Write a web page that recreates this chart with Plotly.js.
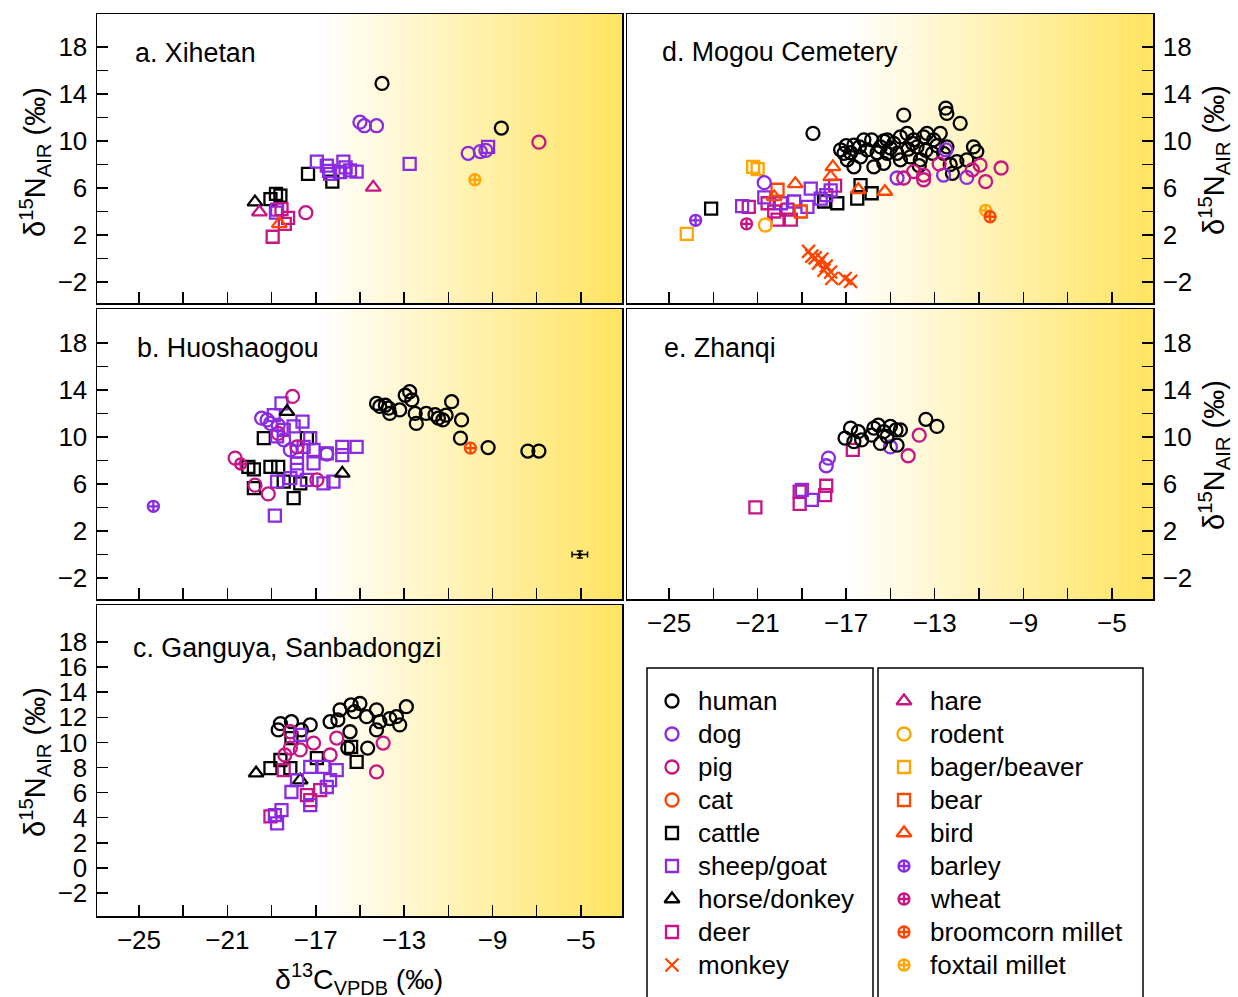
<!DOCTYPE html>
<html>
<head>
<meta charset="utf-8">
<script src="https://cdn.plot.ly/plotly-3.0.1.min.js"></script>
<style>html,body{margin:0;padding:0;background:#fff;}#chart{width:1238px;height:997px;}</style>
</head>
<body>
<div id="chart"></div>
<script>
// ---------- categories ----------
const categoryNames = ['human','dog','pig','cat','cattle','sheep/goat','horse/donkey','deer','monkey',
  'hare','rodent','bager/beaver','bear','bird','barley','wheat','broomcorn millet','foxtail millet'];
const categoryColors = ['#000000','#8A2BE2','#C71585','#FF4500','#000000','#8A2BE2','#000000','#C71585','#FF4500',
  '#C71585','#FFA500','#FFA500','#FF4500','#FF4500','#8A2BE2','#C71585','#FF4500','#FFA500'];
const categorySymbols = ['circle-open','circle-open','circle-open','circle-open','square-open','square-open','triangle-up-open','square-open','x-thin-open',
  'triangle-up-open','circle-open','square-open','square-open','triangle-up-open','circle-cross-open','circle-cross-open','circle-cross-open','circle-cross-open'];
const legendColumn1 = ['human','dog','pig','cat','cattle','sheep/goat','horse/donkey','deer','monkey'];
const legendColumn2 = ['hare','rodent','bager/beaver','bear','bird','barley','wheat','broomcorn millet','foxtail millet'];

// ---------- axis ticks ----------
const xTickVals = [-25,-23,-21,-19,-17,-15,-13,-11,-9,-7,-5];
const xTickText = ['−25','','−21','','−17','','−13','','−9','','−5'];
const yTickVals = [-2,0,2,4,6,8,10,12,14,16,18];
const yTickTextSparse = ['−2','','2','','6','','10','','14','','18'];
const yTickTextFull = ['−2','0','2','4','6','8','10','12','14','16','18'];

// ---------- panel a: Xihetan  [d13C, d15N] ----------
const a_human = [[-14.0,14.9],[-8.6,11.1]];
const a_dog = [[-15.0,11.6],[-14.8,11.3],[-14.25,11.3],[-10.1,8.95],[-9.55,9.1],[-9.3,9.2]];
const a_pig = [[-6.9,9.9],[-17.45,3.9]];
const a_cattle = [[-17.35,7.2],[-16.25,6.55],[-18.8,5.5],[-18.6,5.35],[-19.05,5.05]];
const a_sheep = [[-16.95,8.25],[-16.5,7.9],[-16.4,7.45],[-15.75,8.25],[-15.65,7.75],[-15.15,7.4],[-16.35,7.2],
  [-15.9,7.35],[-15.45,7.5],[-12.75,8.05],[-9.2,9.5],[-18.75,4.15],[-18.8,3.9]];
const a_horse = [[-19.75,4.8]];
const a_hare = [[-19.55,3.95],[-14.4,6.05]];
const a_bird = [[-18.65,2.95]];
const a_deer = [[-18.95,1.85],[-18.55,4.2],[-18.25,3.45],[-18.4,2.95]];
const a_foxtail = [[-9.8,6.7]];

// ---------- panel b: Huoshaogou ----------
const b_human = [[-14.1,12.6],[-13.85,12.7],[-13.65,12.0],[-13.7,12.45],[-13.2,12.3],[-12.95,13.55],[-12.75,13.85],
  [-12.65,13.15],[-12.5,12.0],[-12.45,11.15],[-12.0,12.0],[-11.45,11.6],[-11.25,11.45],[-11.1,11.85],[-10.85,13.0],
  [-10.4,11.45],[-10.45,9.9],[-9.2,9.1],[-7.4,8.8],[-6.9,8.8],[-14.25,12.85],[-11.6,11.9]];
const b_dog = [[-19.45,11.6],[-19.2,11.45],[-19.05,11.15],[-18.7,11.0],[-18.45,9.75],[-18.15,8.9],[-16.5,8.55]];
const b_pig = [[-18.05,13.45],[-20.65,8.2],[-19.75,5.9],[-19.15,5.15],[-16.95,6.35],[-18.7,10.3],[-17.85,9.15]];
const b_wheat = [[-20.4,7.7]];
const b_cattle = [[-20.05,7.45],[-19.8,7.25],[-19.35,9.9],[-19.05,7.45],[-18.7,7.45],[-18.0,4.8],[-19.8,5.65],
  [-17.4,9.9],[-18.45,6.2],[-17.7,6.05]];
const b_horse = [[-18.3,12.15],[-15.8,6.9]];
const b_sheep = [[-18.55,12.85],[-17.6,11.3],[-18.9,11.85],[-18.0,10.9],[-18.75,10.05],[-17.25,9.9],[-17.1,8.9],
  [-17.85,8.75],[-16.5,8.6],[-15.8,9.15],[-15.8,8.45],[-15.15,9.15],[-17.1,7.75],[-17.85,7.2],[-18.15,6.5],
  [-17.4,6.35],[-16.65,6.05],[-16.2,6.2],[-18.75,6.2],[-17.85,7.75],[-18.45,10.6],[-17.55,9.15],[-18.85,3.3]];
const b_barley = [[-24.35,4.1]];
const b_broomcorn = [[-10.0,9.05]];
const b_errPoint = [[-5.05,0.0]];
const b_errX = [0.35];
const b_errY = [0.3];

// ---------- panel c: Ganguya, Sanbadongzi ----------
const c_human = [[-18.6,11.5],[-18.1,11.65],[-18.7,11.0],[-17.25,11.4],[-16.35,11.65],[-16.0,11.8],[-15.9,12.6],
  [-15.4,13.0],[-15.0,13.1],[-15.25,12.45],[-14.7,12.05],[-14.25,12.6],[-14.1,11.65],[-13.65,11.9],[-13.35,12.05],
  [-12.9,12.85],[-13.2,11.4],[-14.25,11.0],[-15.45,10.85],[-14.65,9.55],[-15.55,9.55],[-17.65,11.0]];
const c_cattle = [[-19.05,7.95],[-18.6,8.6],[-18.1,10.35],[-15.4,9.65],[-15.15,8.45],[-16.95,8.75],[-18.15,7.95]];
const c_pig = [[-18.15,10.85],[-17.1,9.95],[-16.05,10.35],[-16.35,9.0],[-18.15,9.55],[-18.4,9.0],[-13.95,9.95],
  [-14.25,7.65],[-17.7,9.4]];
const c_sheep = [[-17.7,10.6],[-17.25,8.05],[-16.65,8.05],[-16.05,7.8],[-16.35,7.0],[-17.85,7.0],[-18.1,6.05],
  [-16.5,6.45],[-17.25,5.0],[-18.55,4.6],[-18.85,4.2],[-18.75,3.55]];
const c_horse = [[-19.7,7.55],[-17.7,7.0]];
const c_deer = [[-18.45,7.8],[-17.4,5.8],[-16.8,6.2],[-19.05,4.1],[-17.25,5.4]];

// ---------- panel d: Mogou Cemetery ----------
const d_human = [[-18.5,10.65],[-14.4,12.2],[-12.5,12.8],[-12.45,12.35],[-11.85,11.5],
  [-17.1,8.95],[-16.65,9.65],[-16.35,8.65],[-16.05,9.25],[-15.85,10.1],[-15.45,9.5],[-15.15,8.95],[-14.85,9.8],
  [-14.55,10.35],[-14.25,10.65],[-13.95,10.1],[-13.8,9.5],[-13.5,10.35],[-13.35,10.65],[-13.05,10.1],[-12.75,10.65],
  [-12.45,9.5],[-12.6,8.95],[-11.25,9.5],[-11.1,9.1],[-11.55,8.4],[-12.0,8.25],[-16.65,7.8],[-15.75,7.8],
  [-15.3,8.1],[-14.1,8.65],[-14.55,8.4],[-17.25,9.25],[-16.95,8.4],[-16.2,10.1],[-15.15,10.1],[-14.7,8.95],
  [-13.65,8.4],[-13.1,8.95],[-12.2,7.25],[-16.8,9.0],[-16.4,9.5],[-15.6,9.0],[-15.0,9.4],[-14.2,9.3],
  [-13.4,9.2],[-12.9,9.6],[-14.0,9.8],[-15.3,10.0],[-17.0,9.6],[-13.7,7.9],[-12.3,8.0]];
const d_dog = [[-20.7,6.45],[-14.7,6.85],[-12.6,7.1],[-11.55,6.9],[-12.5,9.25]];
const d_pig = [[-14.4,6.85],[-13.95,7.4],[-13.5,7.1],[-13.5,6.7],[-12.8,8.05],[-11.3,7.55],[-10.95,7.95],
  [-10.7,6.55],[-10.0,7.7]];
const d_cattle = [[-23.1,4.25],[-16.35,6.25],[-15.85,5.55],[-16.5,5.1],[-17.4,4.7],[-18.0,4.85]];
const d_sheep = [[-21.7,4.45],[-20.7,5.2],[-18.6,5.95],[-19.95,4.7],[-19.35,4.85],[-18.75,4.4],[-18.15,5.1],
  [-17.9,5.4],[-17.7,5.8]];
const d_deer = [[-21.4,4.4],[-20.55,4.7],[-20.1,3.3],[-19.5,3.3],[-20.25,4.0],[-19.65,4.15],[-17.5,6.2]];
const d_bear = [[-20.1,5.85],[-19.05,4.0]];
const d_bird = [[-19.3,6.35],[-20.25,5.25],[-17.6,7.8],[-17.7,6.95],[-16.45,5.85],[-15.25,5.7]];
const d_bager = [[-24.2,2.1],[-21.2,7.8],[-21.0,7.6]];
const d_rodent = [[-20.65,2.85]];
const d_barley = [[-23.8,3.25]];
const d_wheat = [[-21.5,2.95]];
const d_monkey = [[-18.55,0.2],[-18.7,0.6],[-18.4,0.05],[-18.25,-0.4],[-18.1,-0.05],[-17.9,-0.65],[-18.0,-1.0],
  [-17.7,-1.15],[-17.65,-1.7],[-17.05,-1.7],[-16.8,-1.95]];
const d_foxtail = [[-10.7,4.1]];
const d_broomcorn = [[-10.5,3.55]];

// ---------- panel e: Zhanqi ----------
const e_human = [[-16.8,10.75],[-17.05,9.9],[-16.65,9.6],[-16.3,9.75],[-16.45,10.45],[-15.75,10.75],[-15.55,11.0],
  [-15.3,10.45],[-15.0,10.9],[-14.75,10.6],[-14.55,10.6],[-15.45,9.45],[-15.15,10.05],[-14.7,9.3],[-13.4,11.5],
  [-12.9,10.9],[-15.85,10.15]];
const e_dog = [[-17.8,8.2],[-17.9,7.55],[-15.0,9.15]];
const e_pig = [[-13.7,10.15],[-14.2,8.4]];
const e_deer = [[-21.1,4.0],[-19.1,5.35],[-19.1,4.3],[-17.9,5.85],[-17.95,5.05],[-16.7,8.9]];
const e_sheep = [[-19.0,5.5],[-18.55,4.65]];

// ---------- build ----------
const traces = [];
const sizes = {'circle-open':13,'square-open':12,'triangle-up-open':13,'x-thin-open':13,'circle-cross-open':11};
function markerFor(i, shrink) {
  return {symbol:categorySymbols[i], color:categoryColors[i], size:sizes[categorySymbols[i]] - (shrink || 0),
    line:{width:2.3, color:categoryColors[i]}};
}
function addSet(xa, ya, name, pts) {
  const i = categoryNames.indexOf(name);
  traces.push({type:'scatter', mode:'markers', xaxis:xa, yaxis:ya, showlegend:false, hoverinfo:'skip',
    x: pts.map(p => p[0]), y: pts.map(p => p[1]), marker: markerFor(i)});
}
const panelSets = [
  ['x','y',[['cattle',a_cattle],['sheep/goat',a_sheep],['horse/donkey',a_horse],['deer',a_deer],['hare',a_hare],
    ['bird',a_bird],['pig',a_pig],['dog',a_dog],['foxtail millet',a_foxtail],['human',a_human]]],
  ['x2','y2',[['cattle',b_cattle],['sheep/goat',b_sheep],['horse/donkey',b_horse],['pig',b_pig],['dog',b_dog],
    ['wheat',b_wheat],['barley',b_barley],['broomcorn millet',b_broomcorn],['human',b_human]]],
  ['x3','y3',[['cattle',c_cattle],['horse/donkey',c_horse],['human',c_human],['pig',c_pig],['deer',c_deer],['sheep/goat',c_sheep]]],
  ['x4','y4',[['human',d_human],['cattle',d_cattle],['deer',d_deer],['sheep/goat',d_sheep],['bear',d_bear],
    ['bird',d_bird],['bager/beaver',d_bager],['rodent',d_rodent],['barley',d_barley],['wheat',d_wheat],
    ['monkey',d_monkey],['dog',d_dog],['pig',d_pig],['foxtail millet',d_foxtail],['broomcorn millet',d_broomcorn]]],
  ['x5','y5',[['deer',e_deer],['sheep/goat',e_sheep],['dog',e_dog],['human',e_human],['pig',e_pig]]]
];
panelSets.forEach(([xa,ya,sets]) => sets.forEach(([n,p]) => addSet(xa,ya,n,p)));

// measurement error bar in panel b
traces.push({type:'scatter', mode:'markers', xaxis:'x2', yaxis:'y2', showlegend:false, hoverinfo:'skip',
  x:b_errPoint.map(p=>p[0]), y:b_errPoint.map(p=>p[1]),
  marker:{color:'#000', size:4},
  error_x:{type:'data', array:b_errX, color:'#000', thickness:1.5, width:3},
  error_y:{type:'data', array:b_errY, color:'#000', thickness:1.5, width:3}});

// ---------- layout ----------
const W = 1238, H = 997;
const px = v => v / W, py = v => 1 - v / H;
const XR = [-26.9, -3.14];
const font = 'Liberation Sans, Arial, Helvetica, sans-serif';

// key (legend) drawn in its own hidden pixel-like axes
const KEY_L = 647, KEY_R = 1143, KEY_T = 668, ROW0 = 701, ROWH = 33;
const keyAnnotations = [];
[legendColumn1, legendColumn2].forEach((col, c) => {
  const symX = c === 0 ? 672 - KEY_L : 904 - KEY_L;
  const txtX = c === 0 ? 696 - KEY_L : 928 - KEY_L;
  col.forEach((name, r) => {
    const i = categoryNames.indexOf(name);
    traces.push({type:'scatter', mode:'markers', xaxis:'x6', yaxis:'y6', showlegend:false, hoverinfo:'skip',
      x:[symX], y:[r], marker: markerFor(i, 0)});
    keyAnnotations.push({xref:'x6', yref:'y6', x:txtX, y:r, text:name, showarrow:false, xanchor:'left', yanchor:'middle',
      font:{family:font, size:26, color:'#000'}});
  });
});

function xAxis(dom, anchor, showLabels) {
  return {domain:dom, range:XR, anchor:anchor, tickvals:xTickVals, ticktext:xTickText, showticklabels:showLabels,
    ticks:'inside', ticklen:11, tickwidth:1.5, tickcolor:'#000', showline:true, mirror:true, linecolor:'#000', linewidth:1.5,
    showgrid:false, zeroline:false, tickfont:{family:font, size:26, color:'#000'}, ticklabelstandoff:0, fixedrange:true};
}
function yAxis(dom, anchor, range, side, txt) {
  return {domain:dom, range:range, anchor:anchor, side:side, tickvals:yTickVals, ticktext:txt,
    ticks:'inside', ticklen:11, tickwidth:1.5, tickcolor:'#000', showline:true, mirror:true, linecolor:'#000', linewidth:1.5,
    showgrid:false, zeroline:false, tickfont:{family:font, size:26, color:'#000'}, ticklabelstandoff:3, fixedrange:true};
}
const LX = [px(97), px(622)], RX = [px(627), px(1153)];
const R1 = [py(303), py(14)], R2 = [py(599), py(309)], R3 = [py(916), py(605)];

// background gradient stripes
const shapes = [];
const gx0 = -17, gx1 = -3.14, step = 0.2;
[['x','y'],['x2','y2'],['x3','y3'],['x4','y4'],['x5','y5']].forEach(([xa,ya]) => {
  for (let s = gx0; s < gx1; s += step) {
    const t = Math.min(1, (s + step/2 - gx0) / (gx1 - gx0));
    const g = Math.round(255 - t * (255 - 228)), b = Math.round(255 - t * (255 - 95));
    shapes.push({type:'rect', layer:'below', xref:xa, yref:ya + ' domain', x0:s, x1:Math.min(s + step + 0.02, gx1), y0:0, y1:1,
      line:{width:0}, fillcolor:`rgb(255,${g},${b})`});
  }
});
// key boxes
shapes.push({type:'rect', xref:'paper', yref:'paper', x0:px(647), x1:px(873), y0:-0.01, y1:py(668), line:{color:'#000', width:1.5}});
shapes.push({type:'rect', xref:'paper', yref:'paper', x0:px(878), x1:px(1143), y0:-0.01, y1:py(668), line:{color:'#000', width:1.5}});

const yTitle = 'δ<sup>15</sup>N<sub>AIR</sub> (‰)';
const ann = (x, y, text, opts) => Object.assign({xref:'paper', yref:'paper', x:px(x), y:py(y), text:text, showarrow:false,
  font:{family:font, size:26.8, color:'#000'}}, opts || {});
const titleFont = {family:font, size:29, color:'#000'};
const annotations = [
  ann(133, 53, 'a. Xihetan', {xanchor:'left', yanchor:'middle'}),
  ann(135, 348, 'b. Huoshaogou', {xanchor:'left', yanchor:'middle'}),
  ann(131, 648, 'c. Ganguya, Sanbadongzi', {xanchor:'left', yanchor:'middle'}),
  ann(660, 52, 'd. Mogou Cemetery', {xanchor:'left', yanchor:'middle'}),
  ann(662, 348, 'e. Zhanqi', {xanchor:'left', yanchor:'middle'}),
  ann(35, 162, yTitle, {textangle:-90, xanchor:'center', yanchor:'middle', font:titleFont}),
  ann(35, 762, yTitle, {textangle:-90, xanchor:'center', yanchor:'middle', font:titleFont}),
  ann(1214, 160, yTitle, {textangle:-90, xanchor:'center', yanchor:'middle', font:titleFont}),
  ann(1214, 455, yTitle, {textangle:-90, xanchor:'center', yanchor:'middle', font:titleFont}),
  ann(359, 979, 'δ<sup>13</sup>C<sub>VPDB</sub> (‰)', {xanchor:'center', yanchor:'middle', font:{family:font, size:28.5, color:'#000'}})
].concat(keyAnnotations);

const layout = {
  width:W, height:H, margin:{l:0, r:0, t:0, b:0}, paper_bgcolor:'#fff', plot_bgcolor:'#fff',
  showlegend:false,
  xaxis: xAxis(LX, 'y', false),  yaxis: yAxis(R1, 'x', [-3.79, 20.81], 'left', yTickTextSparse),
  xaxis2: xAxis(LX, 'y2', false), yaxis2: yAxis(R2, 'x2', [-3.79, 20.89], 'left', yTickTextSparse),
  xaxis3: xAxis(LX, 'y3', true),  yaxis3: yAxis(R3, 'x3', [-3.83, 20.95], 'left', yTickTextFull),
  xaxis4: xAxis(RX, 'y4', false), yaxis4: yAxis(R1, 'x4', [-3.79, 20.81], 'right', yTickTextSparse),
  xaxis5: xAxis(RX, 'y5', true),  yaxis5: yAxis(R2, 'x5', [-3.79, 20.89], 'right', yTickTextSparse),
  xaxis6: {domain:[px(KEY_L), px(KEY_R)], range:[0, KEY_R - KEY_L], anchor:'y6', visible:false, fixedrange:true},
  yaxis6: {domain:[0, py(KEY_T)], range:[(H - ROW0) / ROWH, (KEY_T - ROW0) / ROWH], anchor:'x6', visible:false, fixedrange:true},
  shapes: shapes,
  annotations: annotations
};

Plotly.newPlot('chart', traces, layout, {staticPlot:true, displayModeBar:false});
</script>
</body>
</html>
